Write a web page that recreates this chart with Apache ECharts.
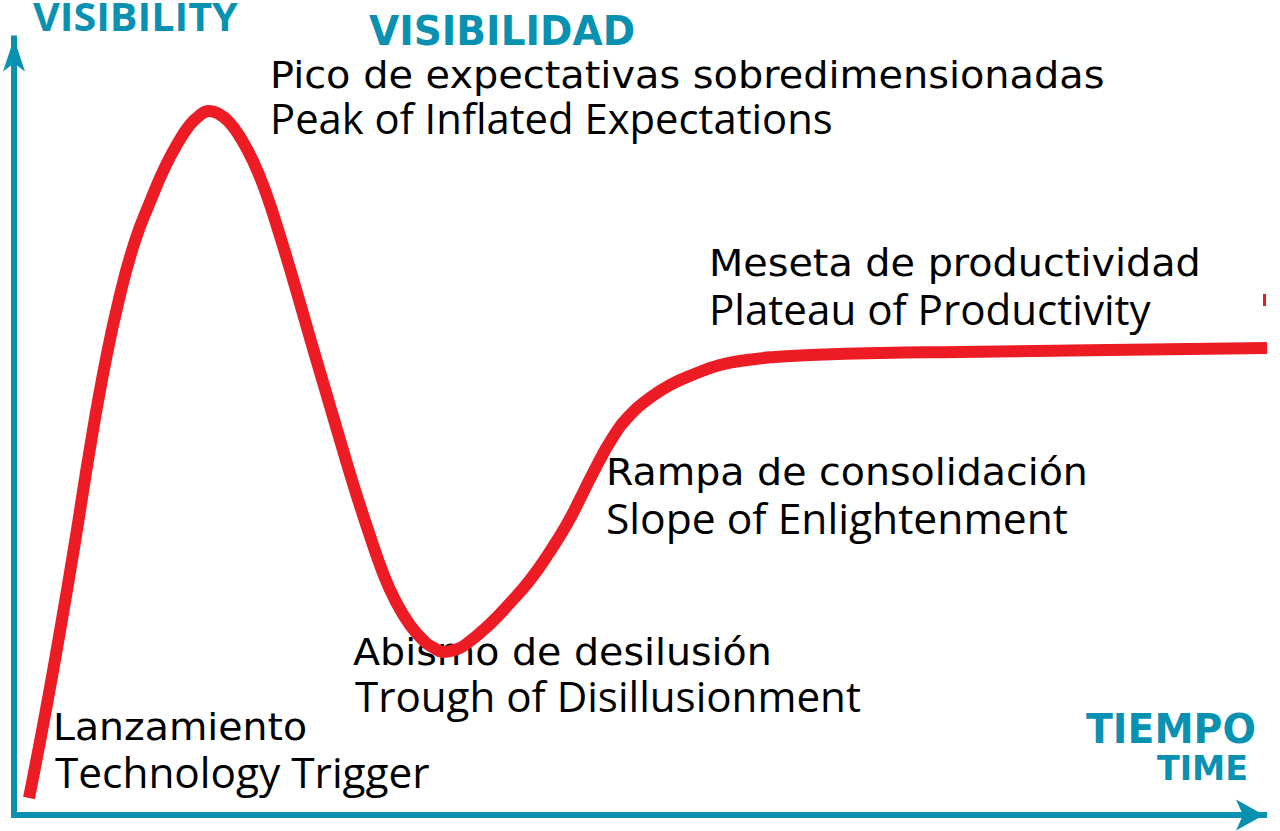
<!DOCTYPE html>
<html>
<head>
<meta charset="utf-8">
<script src="https://cdn.jsdelivr.net/npm/echarts@6/dist/echarts.min.js"></script>
<style>
  html, body { margin: 0; padding: 0; background: #ffffff; }
  #chart { width: 1280px; height: 831px; }
</style>
</head>
<body>
<div id="chart"></div>
<script>
// ---- Data (hype cycle curve) ----
// time (x) and visibility (y) of the curve
const timeValues = [29, 45, 60, 75, 90, 105, 120, 135, 150, 165, 179, 189, 199, 209,
  219, 229, 240, 253, 266, 280, 295, 310, 325, 340, 355, 370, 383, 395, 410, 425, 434, 443,
  454, 465, 490, 510, 530, 549, 567, 580, 593, 613, 630, 647, 670, 697, 720, 747, 775, 811, 880, 960, 1109, 1267];
const visibilityValues = [33, 116, 200, 289, 383, 467, 536, 590, 629, 664, 690, 705, 715, 720,
  717, 709, 694, 670, 638, 595, 545, 493, 442, 391, 341, 295, 258, 231, 206, 189, 183, 179,
  181, 186, 207, 228, 251, 278, 307, 332, 358, 394, 416, 431, 446, 458, 466, 471, 474, 476, 478, 479, 481, 483];
// small stray red tick at the right edge
const tickTime = [1264.5, 1264.5];
const tickVisibility = [537, 525];

const phaseLabelsEs = ["Lanzamiento", "Pico de expectativas sobredimensionadas", "Abismo de desilusión", "Rampa de consolidación", "Meseta de productividad"];
const phaseLabelsEn = ["Technology Trigger", "Peak of Inflated Expectations", "Trough of Disillusionment", "Slope of Enlightenment", "Plateau of Productivity"];
const yAxisTitles = ["VISIBILITY", "VISIBILIDAD"];
const xAxisTitles = ["TIEMPO", "TIME"];

// ---- Styling / layout ----
const TEAL = '#0891b1';
const RED = '#ed1c24';

const esLayout = [
  { x: 53, base: 740, w: 254 },
  { x: 270, base: 88, w: 835 },
  { x: 353, base: 664, w: 419 },
  { x: 606, base: 484, w: 482 },
  { x: 709, base: 275, w: 492 }
];
const enLayout = [
  { x: 55, base: 788, w: 375 },
  { x: 270, base: 134, w: 563 },
  { x: 355, base: 712, w: 506 },
  { x: 606, base: 534, w: 462 },
  { x: 709, base: 325, w: 442 }
];
const yTitleLayout = [
  { x: 33, base: 31, w: 205, font: 'bold 40px "Open Sans"' },
  { x: 369, base: 45, w: 266, font: 'bold 40px "DejaVu Sans"' }
];
const xTitleLayout = [
  { x: 1086, base: 743, w: 170, font: 'bold 41px "DejaVu Sans"' },
  { x: 1157, base: 780, w: 91, font: 'bold 33px "DejaVu Sans"' }
];
const ES_FONT = '37px "DejaVu Sans"';
const EN_FONT = '42px "Open Sans"';

const mctx = document.createElement('canvas').getContext('2d');
function makeText(text, lay, font, color) {
  mctx.font = font;
  const m = mctx.measureText(text);
  const asc = m.fontBoundingBoxAscent || 0;
  const desc = m.fontBoundingBoxDescent || 0;
  return {
    type: 'text',
    x: lay.x,
    y: lay.base - (asc - desc) / 2,
    scaleX: lay.w / m.width,
    originX: 0,
    originY: 0,
    silent: true,
    style: {
      text: text,
      font: font,
      fill: color,
      align: 'left',
      verticalAlign: 'middle'
    }
  };
}

const graphics = [];
phaseLabelsEs.forEach((t, i) => graphics.push(makeText(t, esLayout[i], ES_FONT, '#000000')));
phaseLabelsEn.forEach((t, i) => graphics.push(makeText(t, enLayout[i], EN_FONT, '#000000')));
yAxisTitles.forEach((t, i) => graphics.push(makeText(t, yTitleLayout[i], yTitleLayout[i].font, TEAL)));
xAxisTitles.forEach((t, i) => graphics.push(makeText(t, xTitleLayout[i], xTitleLayout[i].font, TEAL)));

const curveData = timeValues.map((x, i) => [x, visibilityValues[i]]);
const tickData = tickTime.map((x, i) => [x, tickVisibility[i]]);

const chart = echarts.init(document.getElementById('chart'), null, { renderer: 'svg', width: 1280, height: 831 });
chart.setOption({
  animation: false,
  backgroundColor: '#ffffff',
  grid: { left: 14, right: 16, top: 38.5, bottom: 16 },
  xAxis: {
    type: 'value', min: 14, max: 1264,
    axisLine: { show: true, onZero: false, symbol: ['none', 'arrow'], symbolSize: [23.25, 28],
      lineStyle: { color: TEAL, width: 6, cap: 'square' } },
    axisTick: { show: false }, axisLabel: { show: false }, splitLine: { show: false }
  },
  yAxis: {
    type: 'value', min: 16, max: 792.5,
    axisLine: { show: true, onZero: false, symbol: ['none', 'arrow'], symbolSize: [16.5, 33],
      lineStyle: { color: TEAL, width: 6, cap: 'square' } },
    axisTick: { show: false }, axisLabel: { show: false }, splitLine: { show: false }
  },
  series: [
    {
      type: 'line', data: curveData, smooth: 0.5, symbol: 'none', clip: false,
      lineStyle: { color: RED, width: 12, cap: 'butt', join: 'round' }, z: 3
    },
    {
      type: 'line', data: tickData, symbol: 'none', clip: false,
      lineStyle: { color: RED, width: 3 }, z: 3
    }
  ],
  graphic: graphics
});
</script>
</body>
</html>
